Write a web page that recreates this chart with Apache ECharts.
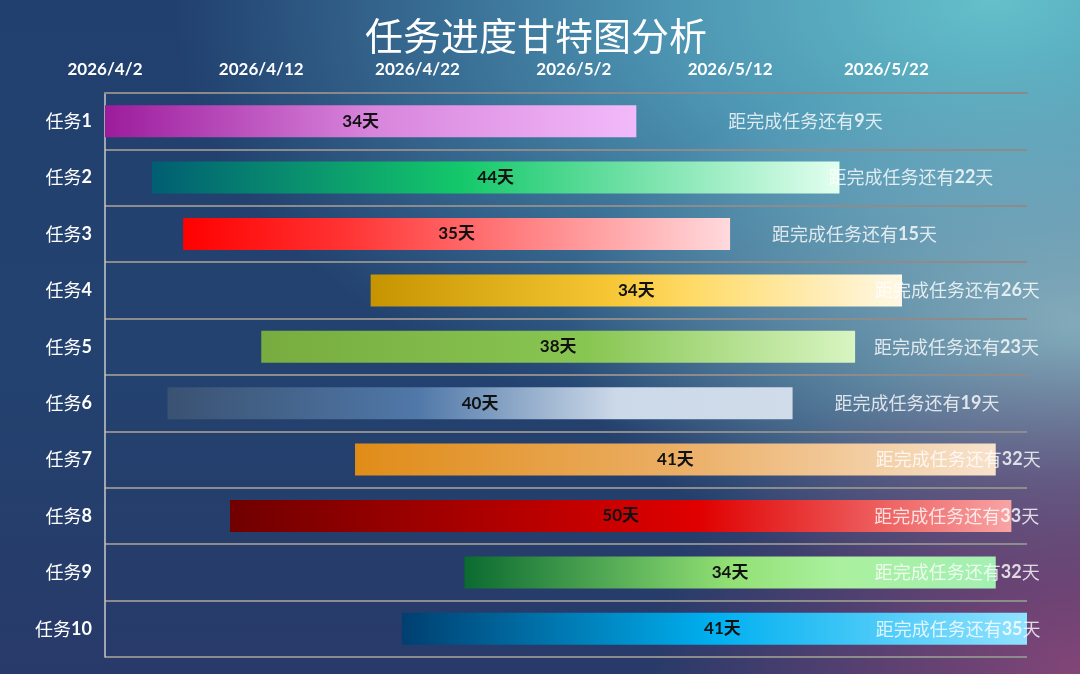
<!DOCTYPE html>
<html><head><meta charset="utf-8">
<script src="https://cdn.jsdelivr.net/npm/echarts@6/dist/echarts.min.js"></script>
<style>
html,body{margin:0;padding:0;width:1080px;height:674px;overflow:hidden;background:#21406f;}
#chart{width:1080px;height:674px;
background:
 radial-gradient(ellipse 430px 330px at 100% 100%, rgba(135,70,120,0.95) 0%, rgba(135,70,120,0.55) 45%, rgba(135,70,120,0) 100%),
 radial-gradient(ellipse 520px 270px at 100% 48%, rgba(150,185,195,0.8) 0%, rgba(150,185,195,0) 100%),
 radial-gradient(ellipse 820px 480px at 92% 0%, rgba(100,192,202,1) 0%, rgba(88,170,196,0.8) 40%, rgba(60,120,170,0) 100%),
 linear-gradient(180deg, #21406f 0%, #23426f 55%, #283a69 100%);
}
</style></head>
<body><div id="chart"></div>
<script>
// ---- data ----
const tasks = ['任务1','任务2','任务3','任务4','任务5','任务6','任务7','任务8','任务9','任务10'];
const startDates = ['2026-04-02','2026-04-05','2026-04-07','2026-04-19','2026-04-12','2026-04-06','2026-04-18','2026-04-10','2026-04-25','2026-04-21'];
const durations = [34,44,35,34,38,40,41,50,34,41];
const remainingDays = [9,22,15,26,23,19,32,33,32,35];
const axisStartDate = '2026-04-02';
const axisEndDate = '2026-05-31';
const tickIntervalDays = 10;

// ---- style / layout ----
const barGradients = [
  [[0,'#9c1c9c'],[0.5,'#d884dc'],[1,'#f2bafa']],
  [[0,'#005e72'],[0.45,'#14c86a'],[1,'#e2fff0']],
  [[0,'#ff0000'],[0.3,'#ff3434'],[1,'#ffdadd']],
  [[0,'#c69400'],[0.45,'#f6c634'],[0.6,'#ffda66'],[1,'#fff8e6']],
  [[0,'#78ac40'],[0.55,'#88c652'],[1,'#d8f5c2']],
  [[0,'#3a5272'],[0.4,'#5078a8'],[0.72,'#ccd9e8'],[1,'#d0dcea']],
  [[0,'#e08c18'],[0.5,'#ebae64'],[1,'#f8e2cc']],
  [[0,'#700000'],[0.6,'#e00000'],[1,'#f8a4a4']],
  [[0,'#0a6a30'],[0.5,'#92e074'],[0.7,'#aaf09e'],[1,'#a4f0b4']],
  [[0,'#003f70'],[0.5,'#00b0f0'],[1,'#90e2ff']]
];
// horizontal offset (px) of each "remaining" label from its bar end
const remainLabelDx = [92,-11,42,-27,19,42,-120,-137,-121,-167];
// horizontal nudge (px) of the duration label inside each bar
const durLabelDx = [-10,0,0,0,0,0,0,0,0,8];

const DAY = 86400000;
function toUTC(s){ const p = s.split('-').map(Number); return Date.UTC(p[0], p[1]-1, p[2]); }
const t0 = toUTC(axisStartDate);
const dayOf = s => Math.round((toUTC(s) - t0) / DAY);
const startOffsets = startDates.map(dayOf);
const endOffsets = startOffsets.map((s,i) => s + durations[i]);
const maxDay = dayOf(axisEndDate);
function fmtDay(v){ const d = new Date(t0 + v*DAY); return d.getUTCFullYear()+'/'+(d.getUTCMonth()+1)+'/'+d.getUTCDate(); }

const grad = stops => ({type:'linear', x:0, y:0, x2:1, y2:0, colorStops: stops.map(s => ({offset:s[0], color:s[1]}))});
const FONT = 'Lato, "Noto Sans CJK SC", sans-serif';
const CJK = '"Noto Sans CJK SC", sans-serif';

const chart = echarts.init(document.getElementById('chart'), null, {renderer:'canvas'});
chart.setOption({
  backgroundColor: 'transparent',
  animation: false,
  title: {
    text: '任务进度甘特图分析', left: 360, top: 12,
    textStyle: {color:'#ffffff', fontSize:38, fontWeight:'normal', fontFamily:CJK}
  },
  grid: {left:105, right:53, top:93, bottom:17, containLabel:false},
  xAxis: {
    type:'value', position:'top', min:0, max:maxDay, interval:tickIntervalDays,
    axisLine:{show:true, lineStyle:{color:'#8a8a8a', width:2}},
    axisTick:{show:false}, splitLine:{show:false},
    axisLabel:{color:'#ffffff', fontSize:17, fontWeight:'bold', fontFamily:FONT, margin:15, showMaxLabel:false, formatter: fmtDay}
  },
  yAxis: {
    type:'category', data:tasks, inverse:true,
    axisLine:{show:true, lineStyle:{color:'#c8c8c8', width:1.5}},
    axisTick:{show:false},
    splitLine:{show:true, lineStyle:{color:'#8c8c8c', width:2}},
    axisLabel:{color:'#ffffff', fontSize:18, fontFamily:FONT, margin:13,
      formatter: v => '{a|' + v.replace(/\d+/,'') + '}{b|' + v.replace(/\D+/,'') + '}',
      rich:{a:{color:'#fff', fontSize:18, fontFamily:CJK}, b:{color:'#fff', fontSize:18, fontWeight:'bold', fontFamily:FONT}}}
  },
  series: [
    {
      type:'bar', stack:'g', silent:true, barWidth:32,
      itemStyle:{color:'transparent'},
      data: startOffsets
    },
    {
      type:'bar', stack:'g', barWidth:32,
      data: durations.map((v,i) => ({value:v, itemStyle:{color: grad(barGradients[i])}, label:{offset:[durLabelDx[i],0]}})),
      label:{show:true, position:'inside', formatter:'{c}天', color:'#111111', fontSize:17, fontWeight:'bold', fontFamily:FONT}
    },
    {
      type:'scatter', symbolSize:0, clip:false, silent:true,
      data: endOffsets.map((e,i) => ({value:[e, i], label:{offset:[remainLabelDx[i], 0]}})),
      label:{show:true, position:'right', distance:0,
        formatter: p => '{a|距完成任务还有}{b|' + remainingDays[p.dataIndex] + '}{a|天}',
        rich:{a:{color:'#ffffff', fontSize:18, fontFamily:CJK}, b:{color:'#ffffff', fontSize:18, fontWeight:'bold', fontFamily:FONT}}}
    }
  ]
});
</script>
</body></html>
